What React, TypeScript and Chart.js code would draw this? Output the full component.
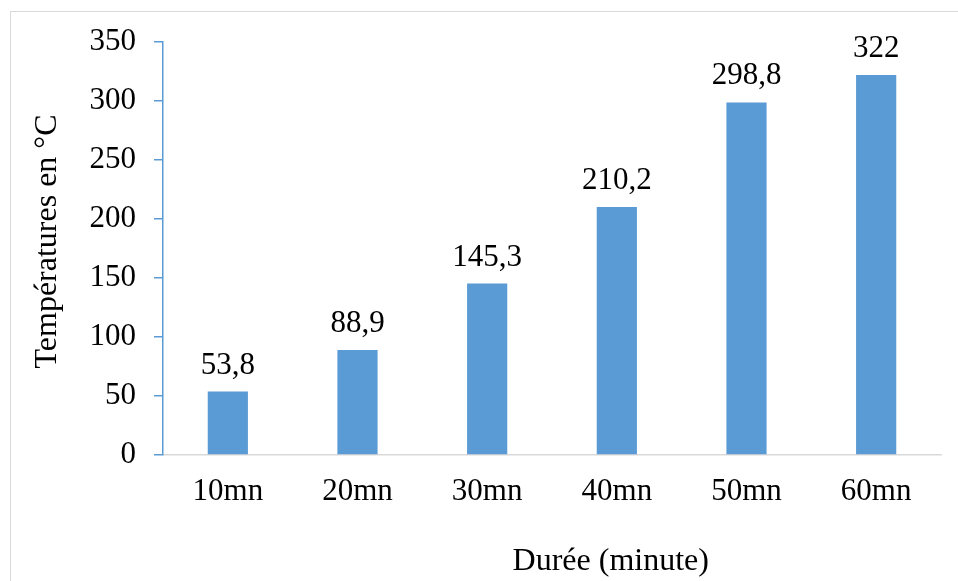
import React, { useEffect, useRef } from "react";
import { Chart, registerables } from "chart.js";

Chart.register(...registerables);

const categories = ["10mn", "20mn", "30mn", "40mn", "50mn", "60mn"];
const temperatures = [53.8, 88.9, 145.3, 210.2, 298.8, 322];
const valueLabels = ["53,8", "88,9", "145,3", "210,2", "298,8", "322"];
const yTitle = "Températures en °C";
const xTitle = "Durée (minute)";

const FONT = "'Liberation Serif', 'Times New Roman', serif";
const FS = 31;
const TFS = 32;

const labelsPlugin = {
  id: "valueLabels",
  afterDatasetsDraw(chart: any) {
    const ctx = chart.ctx;
    const meta = chart.getDatasetMeta(0);
    ctx.save();
    ctx.font = `${FS}px ${FONT}`;
    ctx.fillStyle = "#000";
    ctx.textAlign = "center";
    ctx.textBaseline = "alphabetic";
    meta.data.forEach((bar: any, i: number) => {
      ctx.fillText(valueLabels[i], bar.x, bar.y - 18);
    });
    ctx.restore();
  },
};

const titlesPlugin = {
  id: "axisTitles",
  afterDraw(chart: any) {
    const ctx = chart.ctx;
    const area = chart.chartArea;
    ctx.save();
    ctx.font = `${TFS}px ${FONT}`;
    ctx.fillStyle = "#000";
    ctx.textAlign = "center";
    ctx.textBaseline = "alphabetic";
    ctx.fillText(xTitle, area.left + (area.right - area.left) * 0.5755, chart.height - 11);
    ctx.translate(56, (area.top + area.bottom) / 2 - 7);
    ctx.rotate(-Math.PI / 2);
    ctx.fillText(yTitle, 0, 0);
    ctx.restore();
  },
};

export default function App() {
  const ref = useRef<HTMLCanvasElement | null>(null);
  useEffect(() => {
    if (!ref.current) return;
    const chart = new Chart(ref.current, {
      type: "bar",
      data: {
        labels: categories,
        datasets: [
          {
            data: temperatures,
            backgroundColor: "#5B9BD5",
            borderWidth: 0,
            categoryPercentage: 1,
            barPercentage: 0.31,
          },
        ],
      },
      options: {
        responsive: false,
        animation: false,
        layout: { padding: { left: 0, top: 42, right: 17, bottom: 0 } },
        plugins: { legend: { display: false }, tooltip: { enabled: false } },
        scales: {
          x: {
            grid: { display: false, drawTicks: false },
            border: { display: true, color: "#D9D9D9", width: 1.5 },
            ticks: { color: "#000", font: { family: FONT, size: FS }, padding: 18 },
            afterFit(scale: any) {
              scale.height = 126;
            },
          },
          y: {
            min: 0,
            max: 350,
            ticks: { stepSize: 50, color: "#000", font: { family: FONT, size: FS }, padding: 18 },
            grid: { drawOnChartArea: false, drawTicks: true, tickLength: 9, color: "#5B9BD5", lineWidth: 1.5 },
            border: { display: true, color: "#5B9BD5", width: 1.5 },
            afterFit(scale: any) {
              scale.width = 163;
            },
          },
        },
      },
      plugins: [labelsPlugin, titlesPlugin],
    });
    return () => chart.destroy();
  }, []);

  return (
    <div
      style={{
        position: "fixed",
        left: 0,
        top: 0,
        width: 958,
        height: 581,
        overflow: "hidden",
        background: "#fff",
      }}
    >
      <div
        style={{
          position: "absolute",
          left: 10,
          top: 11,
          width: 1000,
          height: 1000,
          borderLeft: "1px solid #D9D9D9",
          borderTop: "1px solid #D9D9D9",
        }}
      />
      <canvas
        ref={ref}
        width={958}
        height={581}
        style={{ position: "absolute", left: 0, top: 0, width: 958, height: 581 }}
      />
    </div>
  );
}
